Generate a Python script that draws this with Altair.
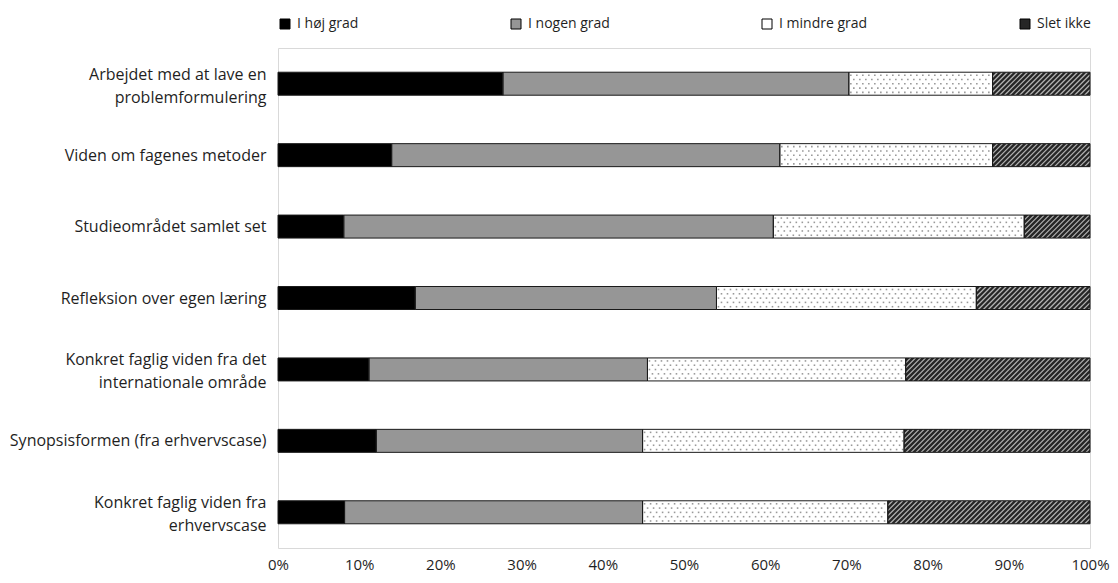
import json
import altair as alt
import pandas as pd

# ---------------- data ----------------
categories = [
    "Arbejdet med at lave en\nproblemformulering",
    "Viden om fagenes metoder",
    "Studieområdet samlet set",
    "Refleksion over egen læring",
    "Konkret faglig viden fra det\ninternationale område",
    "Synopsisformen (fra erhvervscase)",
    "Konkret faglig viden fra\nerhvervscase",
]
series = ["I høj grad", "I nogen grad", "I mindre grad", "Slet ikke"]
hoej = [27.7, 14.0, 8.1, 16.9, 11.2, 12.1, 8.2]
nogen = [42.6, 47.8, 52.9, 37.1, 34.3, 32.8, 36.7]
mindre = [17.7, 26.2, 30.9, 32.0, 31.8, 32.2, 30.2]
slet = [12.0, 12.0, 8.1, 14.0, 22.7, 22.9, 24.9]
x_ticks = [0, 10, 20, 30, 40, 50, 60, 70, 80, 90, 100]

# ---------------- layout / style ----------------
W, H = 812, 500
PX_PCT = W / 100.0
ROW_PX = H / len(categories)
BAR_PX = 23
HALF = (BAR_PX / 2) / ROW_PX
FONT = "Open Sans"
TXT = "#1f1f1f"
colors = ["#000000", "#969696", "#ffffff", "#262626"]

rows = []
hatch = []
dots = []
for i, cat in enumerate(categories):
    vals = [hoej[i], nogen[i], mindre[i], slet[i]]
    start = 0.0
    for s, v in zip(series, vals):
        a, b = start, start + v
        rows.append({"idx": i, "serie": s, "x0": a, "x1": b,
                     "y0": i - HALF, "y1": i + HALF})
        if s == "Slet ikke":
            h = BAR_PX / PX_PCT
            sp = 5.0 / PX_PCT
            xb = a - h
            while xb < b:
                t0 = max(0.0, (a - xb) / h)
                t1 = min(1.0, (b - xb) / h)
                if t1 > t0:
                    hatch.append({"hx1": xb + t0 * h, "hx2": xb + t1 * h,
                                  "hy1": i + HALF - t0 * 2 * HALF,
                                  "hy2": i + HALF - t1 * 2 * HALF})
                xb += sp
        if s == "I mindre grad":
            for r in range(5):
                yoff = 3 + r * 4.3
                xoff = 2 + (r % 2) * 3.0
                x = a + xoff / PX_PCT
                while x < b - 1 / PX_PCT:
                    dots.append({"dx": x, "dy": i - HALF + yoff / ROW_PX})
                    x += 6.0 / PX_PCT
        start = b

df = pd.DataFrame(rows)
hdf = pd.DataFrame(hatch)
ddf = pd.DataFrame(dots)

label_lines = [c.split("\n") for c in categories]
lines_js = json.dumps(label_lines, ensure_ascii=False)
label_expr = lines_js + "[datum.value]"

xscale = alt.Scale(domain=[0, 100], nice=False, zero=False)
yscale = alt.Scale(domain=[-0.5, len(categories) - 0.5], reverse=True, nice=False, zero=False)

xaxis = alt.Axis(values=x_ticks, labelExpr="datum.value + '%'", ticks=False, domain=False,
                 grid=False, labelFont=FONT, labelFontSize=15, labelColor=TXT, labelPadding=9,
                 labelFlush=False, title=None)
yaxis = alt.Axis(values=list(range(len(categories))), labelExpr=label_expr, ticks=False,
                 domain=False, grid=False, labelFont=FONT, labelFontSize=16, labelColor=TXT,
                 labelPadding=12, labelLineHeight=23, labelLimit=400, title=None,
                 labelOffset={"condition": {"test": f"length({lines_js}[datum.value]) > 1",
                                            "value": -9.5},
                              "value": 0})

bars = alt.Chart(df).mark_rect().encode(
    x=alt.X("x0:Q", scale=xscale, axis=xaxis, title=None),
    x2="x1:Q",
    y=alt.Y("y0:Q", scale=yscale, axis=yaxis, title=None),
    y2="y1:Q",
    color=alt.Color("serie:N", scale=alt.Scale(domain=series, range=colors),
                    sort=series,
                    legend=alt.Legend(orient="top", direction="horizontal", columns=4,
                                      columnPadding=150, title=None, symbolType="square",
                                      symbolSize=100, symbolStrokeColor="#000000",
                                      symbolStrokeWidth=1, labelFont=FONT, labelFontSize=14,
                                      labelColor=TXT, offset=17, labelOffset=5)),
)

hatch_layer = alt.Chart(hdf).mark_rule(color="#b4b4b4", strokeWidth=1.2).encode(
    x=alt.X("hx1:Q", scale=xscale, title=None), x2="hx2:Q",
    y=alt.Y("hy1:Q", scale=yscale, title=None), y2="hy2:Q",
)

dot_layer = alt.Chart(ddf).mark_square(color="#999999", size=2.5, opacity=1).encode(
    x=alt.X("dx:Q", scale=xscale, title=None),
    y=alt.Y("dy:Q", scale=yscale, title=None),
)

outline = alt.Chart(df).mark_rect(fillOpacity=0, stroke="#1a1a1a", strokeWidth=1).encode(
    x=alt.X("x0:Q", scale=xscale, title=None), x2="x1:Q",
    y=alt.Y("y0:Q", scale=yscale, title=None), y2="y1:Q",
)

chart = alt.layer(bars, hatch_layer, dot_layer, outline).properties(
    width=W, height=H,
    autosize=alt.AutoSizeParams(type="none"),
    padding={"left": 270, "top": 40, "right": 20, "bottom": 27},
).configure_view(stroke="#d9d9d9", strokeWidth=1)

chart.save("out.html", embed_options={"renderer": "svg", "actions": False})
